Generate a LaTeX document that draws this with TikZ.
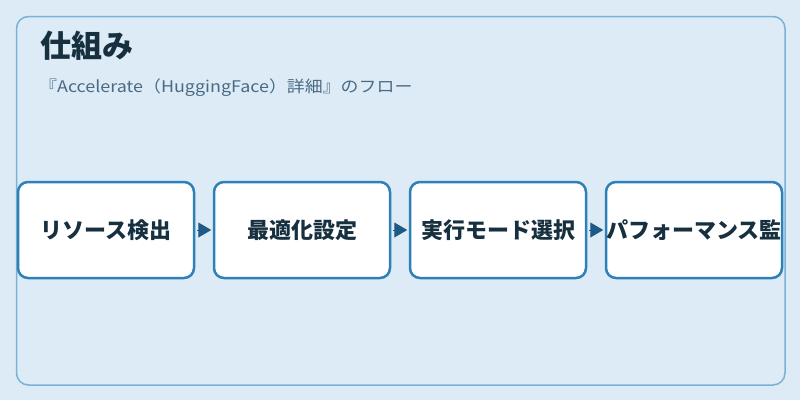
\documentclass[tikz,border=0pt]{standalone}
\usepackage{fontspec}
\setmainfont{Noto Sans CJK JP}
\newfontfamily\subfont[FakeStretch=1.12]{Noto Sans CJK JP}
\usetikzlibrary{arrows.meta}
\definecolor{bgc}{HTML}{DCEBF6}
\definecolor{framec}{HTML}{7AB1D6}
\definecolor{boxc}{HTML}{2E80B8}
\definecolor{arrc}{HTML}{1F5A86}
\definecolor{titlec}{HTML}{17303F}
\definecolor{subc}{HTML}{4A6A84}
\tikzset{
  stepbox/.style={draw=boxc, line width=2.5pt, fill=white, rounded corners=10pt,
    minimum width=176pt, minimum height=96pt, inner sep=0pt,
    font=\fontsize{22}{26}\selectfont\bfseries, text=titlec},
  flowarrow/.style={draw=arrc, line width=1pt, shorten >=1.5pt, shorten <=1.5pt,
    -{Triangle[length=13pt,width=15pt]}, arrc},
}
\begin{document}
\begin{tikzpicture}[x=1pt,y=-1pt]
\fill[bgc] (0,0) rectangle (800,400);
\useasboundingbox (0,0) rectangle (800,400);
\draw[framec, line width=1.5pt, rounded corners=12pt] (16.5,16.5) rectangle (785,385);
\node[anchor=west, inner sep=0pt, text=titlec, font=\fontsize{31}{36}\selectfont\bfseries] (title) at (40,46) {仕組み};
\node[anchor=west, inner sep=0pt, text=subc, font=\subfont\fontsize{16}{19}\selectfont] (sub) at (39,88) {『Accelerate（HuggingFace）詳細』のフロー};
\node[stepbox] (s1) at (106,230) {リソース検出};
\node[stepbox] (s2) at (302,230) {最適化設定};
\node[stepbox] (s3) at (498,230) {実行モード選択};
\node[stepbox] (s4) at (694,230) {パフォーマンス監};
\draw[flowarrow] (s1.east) -- (s2.west);
\draw[flowarrow] (s2.east) -- (s3.west);
\draw[flowarrow] (s3.east) -- (s4.west);
\end{tikzpicture}
\end{document}
